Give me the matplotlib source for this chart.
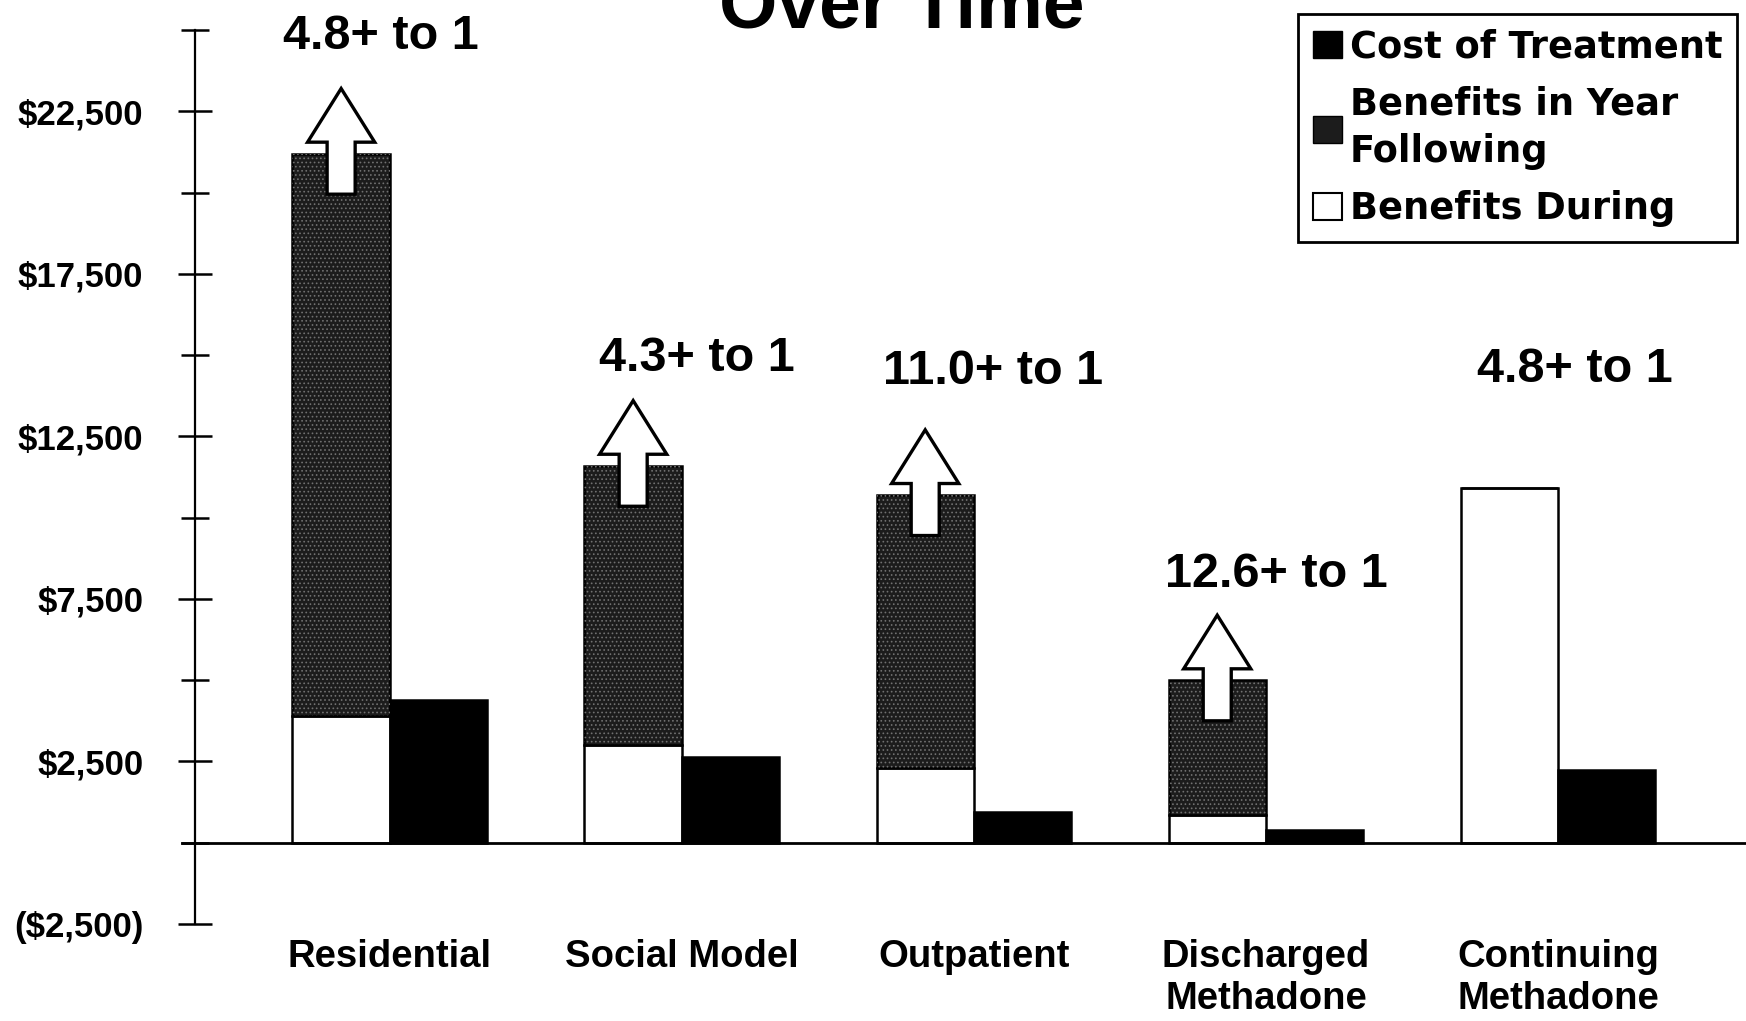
import numpy as np
import matplotlib
matplotlib.use('Agg')
import matplotlib.pyplot as plt
from matplotlib.patches import FancyArrow, Patch
from matplotlib.ticker import FixedLocator, FuncFormatter

plt.rcParams['font.family'] = ['Liberation Sans', 'DejaVu Sans']
plt.rcParams['font.weight'] = 'bold'
plt.rcParams['hatch.linewidth'] = 0.7

PROGRAMS = ['Residential', 'Social Model', 'Outpatient',
            'Discharged\nMethadone', 'Continuing\nMethadone']
BENEFITS_DURING = [3900, 3000, 2300, 850, 10900]
BENEFITS_FOLLOWING = [17300, 8600, 8400, 4150, 0]
COST = [4400, 2650, 950, 400, 2250]
RATIOS = ['4.8+ to 1', '4.3+ to 1', '11.0+ to 1', '12.6+ to 1', '4.8+ to 1']
# benefits keep coming after the follow-up year -> draw an up arrow
ONGOING = [True, True, True, True, False]

# where the ratio captions sit (x offset from group centre, y in dollars)
RATIO_POS = [(-0.03, 24800), (0.05, 14900), (0.065, 14500), (0.035, 8250), (0.057, 14550)]

LEGEND_LABELS = ['Cost of Treatment', 'Benefits in Year\nFollowing', 'Benefits During']
FOLLOW_COLOR = '#1c1c1c'


def money(v, *args):
    if v < 0:
        return f"(${-v:,.0f})"
    return f"${v:,.0f}"


fig = plt.figure(figsize=(17.46, 10.21), dpi=100)
ax = fig.add_axes([0.1117, 0.095, 0.8883, 0.8756])

x = np.arange(len(PROGRAMS))
w = 1 / 3
bottoms = np.array(BENEFITS_DURING)
tops = bottoms + np.array(BENEFITS_FOLLOWING)

ax.bar(x - w / 2, BENEFITS_DURING, w, color='white', edgecolor='black', linewidth=1.8, zorder=2)
ax.bar(x - w / 2, BENEFITS_FOLLOWING, w, bottom=bottoms, color=FOLLOW_COLOR,
       edgecolor='black', linewidth=1.8, zorder=2)
# stipple texture over the dark fill
ax.bar(x - w / 2, BENEFITS_FOLLOWING, w, bottom=bottoms, facecolor='none',
       edgecolor='#707070', hatch='....', linewidth=0, zorder=3)
ax.bar(x + w / 2, COST, w, color='black', edgecolor='black', linewidth=1.8, zorder=2)

for i, top in enumerate(tops):
    if ONGOING[i]:
        ax.add_patch(FancyArrow(x[i] - w / 2, top - 1250, 0, 3250, width=0.096,
                                head_width=0.23, head_length=1650,
                                length_includes_head=True, facecolor='white',
                                edgecolor='black', linewidth=2.4, zorder=4))
    dx, y = RATIO_POS[i]
    ax.text(x[i] + dx, y, RATIOS[i], ha='center', va='center', fontsize=35,
            fontweight='bold')

ax.set_xlim(-0.667, 4.644)
ax.set_ylim(-2500, 25000)
ax.plot([-0.71, 4.644], [0, 0], color='black', linewidth=2, clip_on=False, zorder=5)

for side in ['top', 'right', 'bottom']:
    ax.spines[side].set_visible(False)
ax.spines['left'].set_linewidth(1.6)

ax.yaxis.set_major_locator(FixedLocator(np.arange(-2500, 25000, 5000)))
ax.yaxis.set_minor_locator(FixedLocator(np.arange(0, 25001, 5000)))
ax.yaxis.set_major_formatter(FuncFormatter(money))
ax.tick_params(axis='y', which='major', direction='inout', length=24.5, width=1.8,
               pad=25, labelsize=25)
ax.tick_params(axis='y', which='minor', direction='inout', length=20, width=1.8)

ax.set_xticks(x, PROGRAMS)
ax.tick_params(axis='x', length=0, pad=11, labelsize=27.5)

handles = [
    Patch(facecolor='black', edgecolor='black'),
    Patch(facecolor=FOLLOW_COLOR, edgecolor='black'),
    Patch(facecolor='white', edgecolor='black', linewidth=1.5),
]
leg = fig.legend(handles, LEGEND_LABELS, loc='upper right',
                 bbox_to_anchor=(1737 / 1746, 1 - 14 / 1021),
                 prop={'family': 'DejaVu Sans', 'weight': 'bold', 'size': 26.5},
                 frameon=True, fancybox=False, edgecolor='black', framealpha=1,
                 handlelength=0.8, handleheight=0.75, handletextpad=0.2,
                 borderpad=0.4, labelspacing=0.55, borderaxespad=0)
for t in leg.get_texts():
    t.set_linespacing(1.35)
leg.get_frame().set_linewidth(2)

fig.text(902 / 1746, 1 - 27 / 1021, 'Over Time', ha='center', va='baseline',
         fontsize=54, fontweight='bold')

fig.savefig('out.png', dpi=100)
